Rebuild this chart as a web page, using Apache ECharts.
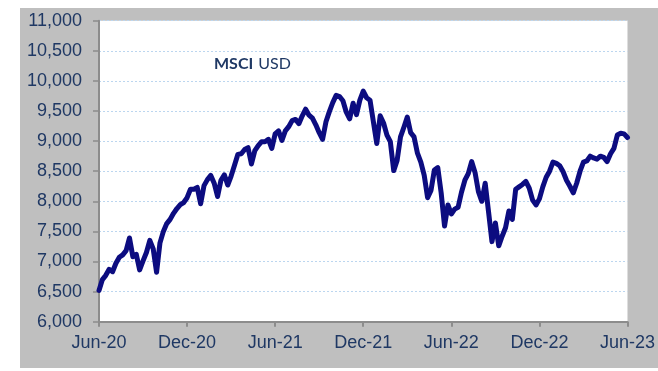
<!DOCTYPE html>
<html>
<head>
<meta charset="utf-8">
<script src="https://cdn.jsdelivr.net/npm/echarts@6/dist/echarts.min.js"></script>
<style>
html,body{margin:0;padding:0;background:#fff;}
#panel{position:absolute;left:20px;top:8px;width:638px;height:360px;background:#bfbfbf;}
#chart{position:absolute;left:0;top:0;width:658px;height:371px;}
</style>
</head>
<body>
<div id="panel"></div>
<div id="chart"></div>
<script>
// Weekly observations starting 30 Jun 2020
const startDate = '2020-06-30';
const values = [
6520,6700,6770,6870,6830,6970,7070,7110,7180,7390,
7080,7120,6860,7010,7150,7350,7210,6820,7310,7500,
7630,7700,7800,7880,7945,7980,8060,8200,8200,8230,
7960,8260,8360,8430,8300,8080,8350,8440,8270,8420,
8600,8780,8790,8860,8890,8620,8840,8925,8990,8990,
9030,8880,9120,9170,9010,9170,9240,9340,9360,9290,
9420,9530,9430,9380,9270,9140,9030,9320,9490,9640,
9760,9740,9670,9480,9370,9630,9440,9680,9830,9720,
9680,9320,8960,9420,9300,9100,8990,8510,8680,9070,
9230,9400,9140,9070,8800,8650,8430,8060,8180,8520,
8560,8140,7590,7940,7790,7870,7900,8150,8350,8460,
8660,8480,8160,8000,8300,7820,7330,7640,7260,7420,
7560,7840,7700,8200,8240,8280,8330,8220,8020,7940,
8040,8240,8400,8500,8650,8630,8590,8490,8350,8250,
8140,8300,8500,8650,8670,8750,8720,8700,8750,8730,
8660,8790,8880,9100,9130,9120,9060
];
const yTicks = {min: 6000, max: 11000, step: 500};
const titleBold = 'MSCI';
const titleRest = 'USD';
const monthNames = ['Jan','Feb','Mar','Apr','May','Jun','Jul','Aug','Sep','Oct','Nov','Dec'];

const t0 = Date.parse(startDate + 'T00:00:00Z');
const dates = values.map((v, i) => new Date(t0 + i * 7 * 86400000).toISOString().slice(0, 10));

function fmtDate(s) {
  const d = new Date(s + 'T00:00:00Z');
  return monthNames[d.getUTCMonth()] + '-' + String(d.getUTCFullYear()).slice(2);
}

const chart = echarts.init(document.getElementById('chart'), null, {renderer: 'canvas'});
const labelColor = '#1f3864';
chart.setOption({
  backgroundColor: 'transparent',
  animation: false,
  title: {
    text: '{b|' + titleBold + '} {n|' + titleRest + '}',
    left: 214, top: 55, padding: 0,
    textStyle: {
      rich: {
        b: {fontFamily: 'Lato', fontWeight: 'bold', fontSize: 16, color: labelColor},
        n: {fontFamily: 'Lato', fontWeight: 'normal', fontSize: 16, color: labelColor}
      }
    }
  },
  grid: {
    left: 99, right: 30.5, top: 20.7, bottom: 49.3,
    show: true, backgroundColor: '#ffffff', borderWidth: 0
  },
  xAxis: {
    type: 'category',
    data: dates,
    boundaryGap: false,
    axisLine: {lineStyle: {color: '#8c8c8c', width: 2}},
    axisTick: {show: true, interval: 25, length: 5, lineStyle: {color: '#8c8c8c', width: 2}},
    axisLabel: {
      interval: 25, margin: 12, color: labelColor,
      fontFamily: 'Liberation Sans, Arial', fontSize: 18,
      formatter: fmtDate
    },
    splitLine: {show: false}
  },
  yAxis: {
    type: 'value',
    min: yTicks.min, max: yTicks.max, interval: yTicks.step,
    axisLine: {show: true, lineStyle: {color: '#8c8c8c', width: 2}},
    axisTick: {show: true, length: 6, lineStyle: {color: '#8c8c8c', width: 1.5}},
    axisLabel: {
      margin: 17, color: labelColor,
      fontFamily: 'Liberation Sans, Arial', fontSize: 18,
      formatter: v => v.toLocaleString('en-US')
    },
    splitLine: {show: true, lineStyle: {color: '#bcd6ef', type: [2, 2], width: 1}}
  },
  series: [{
    type: 'line',
    data: values,
    showSymbol: false,
    symbol: 'none',
    smooth: false,
    lineStyle: {color: '#0c0c80', width: 5, join: 'round', cap: 'round'}
  }]
});
</script>
</body>
</html>
